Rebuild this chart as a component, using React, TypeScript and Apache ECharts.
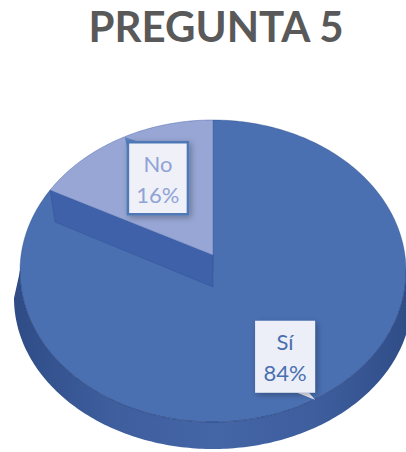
import React, { useEffect, useRef } from "react";
import * as echarts from "echarts";

const titleText = "PREGUNTA 5";
const categories = ["Sí", "No"];
const values = [84, 16];

const topColors = ["#4A70B2", "#97A6D4"];
const textColors = ["#4A6FB1", "#8FA3D6"];

const cx = 213, cy = 271, rx = 193, ry = 151, depth = 27, flare = 6;

function pt(phi: number, ox = 0, oy = 0, sx = rx, sy = ry): number[] {
  const a = (phi * Math.PI) / 180;
  return [cx + ox + sx * Math.sin(a), cy + oy - sy * Math.cos(a)];
}
function arc(a0: number, a1: number, ox = 0, oy = 0, sx = rx, sy = ry): number[][] {
  const out: number[][] = [];
  const n = Math.max(2, Math.ceil(Math.abs(a1 - a0)));
  for (let k = 0; k <= n; k++) out.push(pt(a0 + ((a1 - a0) * k) / n, ox, oy, sx, sy));
  return out;
}

export default function App() {
  const ref = useRef<HTMLDivElement>(null);
  useEffect(() => {
    if (!ref.current) return;
    const chart = echarts.init(ref.current, undefined, { renderer: "svg" });
    const total = values.reduce((a, b) => a + b, 0);
    const starts: number[] = [];
    let acc = 0;
    values.forEach((v) => {
      starts.push((acc / total) * 360);
      acc += v;
    });

    const renderItem = (params: any) => {
      const i = params.dataIndex;
      const a0 = starts[i];
      const a1 = a0 + (values[i] / total) * 360;
      const children: any[] = [];
      const lift = i === 1 ? -16 : 0;
      const V = [cx, cy + lift];
      // front side wall
      const w0 = Math.max(a0, 90), w1 = Math.min(a1, 270);
      if (w1 > w0) {
        const pts = arc(w0, w1).concat(arc(w1, w0, 0, depth, rx + flare, ry));
        children.push({
          type: "polygon",
          shape: { points: pts },
          style: {
            fill: new echarts.graphic.LinearGradient(0, 0, 1, 0, [
              { offset: 0, color: "#2F4C86" },
              { offset: 0.25, color: "#3E5E9E" },
              { offset: 0.5, color: "#4465A6" },
              { offset: 0.75, color: "#3E5E9E" },
              { offset: 1, color: "#2F4C86" },
            ]),
          },
          z2: 1,
        });
      }
      children.push({
        type: "polygon",
        shape: { points: [V].concat(arc(a0, a1)) },
        style: { fill: topColors[i], stroke: i === 1 ? "rgba(80,110,180,0.5)" : "rgba(40,70,130,0.35)", lineWidth: 1 },
        z2: i === 1 ? 7 : 4,
      });
      if (i === 1) {
        const E = pt(a0);
        children.push({
          type: "polygon",
          shape: { points: [V, E, [E[0] + 5, E[1] + 32], [V[0], V[1] + 32]] },
          style: { fill: "#3F61A9", stroke: "rgba(40,70,130,0.3)", lineWidth: 1 },
          z2: 6,
        });
      }
      if (i === 0) {
        children.push({
          type: "polyline",
          shape: { points: arc(w0, w1) },
          style: { stroke: "rgba(35,60,115,0.45)", lineWidth: 1, fill: null },
          z2: 5,
        });
      }
      // label
      const mid = (a0 + a1) / 2;
      const f = 0.7;
      const p = pt(mid, 0, 0, rx * f, ry * f);
      const bx = p[0] + (i === 0 ? 7 : 10), by = p[1] + (i === 0 ? -7 : 0);
      const bw = 60, bh = 72;
      const tail =
        i === 0
          ? [[bx + 12, by + bh / 2], [bx + 30, by + bh / 2 + 7], [bx + 24, by + bh / 2]]
          : [[bx - bw / 2 + 12, by - bh / 2], [bx - bw / 2 - 3, by - bh / 2 - 5], [bx - bw / 2, by - bh / 2 + 10]];
      children.push({
        type: "polygon",
        shape: { points: tail },
        style: { fill: i === 0 ? "#E9ECF6" : "#5A80BC" },
        z2: 9,
      });
      children.push({
        type: "rect",
        shape: { x: bx - bw / 2, y: by - bh / 2, width: bw, height: bh },
        style: {
          fill: i === 0 ? "#ECEFF7" : "#EFF0F8",
          stroke: i === 1 ? "#4F79B6" : null,
          lineWidth: i === 1 ? 2.5 : 0,
          shadowBlur: 6,
          shadowOffsetX: 2,
          shadowOffsetY: 2,
          shadowColor: "rgba(0,0,0,0.3)",
        },
        z2: 10,
      });
      const pct = Math.round((values[i] / total) * 100) + "%";
      [categories[i], pct].forEach((t, k) => {
        children.push({
          type: "text",
          style: {
            text: t,
            x: bx,
            y: by + (k === 0 ? -15 : 16),
            fill: textColors[i],
            font: "22px Lato",
            align: "center",
            verticalAlign: "middle",
          },
          z2: 11,
        });
      });
      return { type: "group", children };
    };

    chart.setOption({
      animation: false,
      backgroundColor: "#FFFFFF",
      title: {
        text: titleText,
        left: 211,
        textAlign: "center",
        top: 0,
        textStyle: { fontSize: 42, fontWeight: "bold", fontFamily: "Lato", color: "#595959" },
      },
      series: [
        {
          type: "custom",
          coordinateSystem: "none",
          renderItem,
          data: categories.map((c, i) => ({ name: c, value: values[i] })),
        },
      ],
    });
    return () => chart.dispose();
  }, []);
  return <div ref={ref} style={{ position: "absolute", left: 0, top: 0, width: 406, height: 452 }} />;
}
